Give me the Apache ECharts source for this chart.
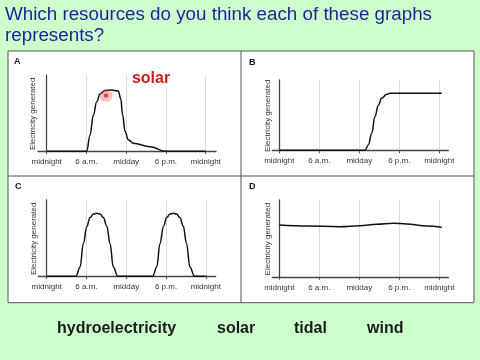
<!DOCTYPE html>
<html><head><meta charset="utf-8">
<script src="https://cdn.jsdelivr.net/npm/echarts@6/dist/echarts.min.js"></script>
<style>html,body{margin:0;padding:0;background:#ccffcc}#c{width:480px;height:360px}</style>
</head><body><div id="c"></div>
<script>
const titleLines = ['Which resources do you think each of these graphs', 'represents?'];
const panelLetters = ['A', 'B', 'C', 'D'];
const answerWords = ['hydroelectricity', 'solar', 'tidal', 'wind'];
const yAxisName = 'Electricity generated';
const tickHours = [0, 6, 12, 18, 24];
const tickLabels = ['midnight', '6 a.m.', 'midday', '6 p.m.', 'midnight'];

// Panel A (solar)
const hoursA  = [0, 6.04, 6.54, 7.03, 7.55, 8.05, 8.8, 9.81, 10.8, 11.17, 11.47, 11.82, 12.32, 13.07, 15.6, 17.86, 24];
const valuesA = [0, 0, 21, 47, 65, 75, 79.5, 80.3, 79, 69, 47, 26, 15, 10.3, 5.9, 0, 0];
const markerA = [[8.95, 73]];
const markerLabel = 'solar';
// Panel B
const hoursB  = [0, 12.85, 13.35, 13.86, 14.35, 14.85, 15.36, 16.11, 16.6, 24.36];
const valuesB = [0, 0, 7.5, 24, 48, 64, 74, 79.7, 81, 81];
// Panel C
const hoursC  = [0, 4.42, 5.03, 5.53, 6.04, 6.54, 7.05, 7.55, 8.05, 8.55, 9.06, 9.55, 10.05, 10.72,
                 16.0, 16.6, 17.1, 17.6, 18.1, 18.6, 19.1, 19.6, 20.1, 20.6, 21.1, 21.6, 22.3, 24];
const valuesC = [0, 0, 12, 43, 65, 77, 81.5, 82.5, 81.5, 77, 66, 43, 12, 0,
                 0, 12, 43, 65, 77, 81.5, 82.5, 81.5, 77, 66, 43, 12, 0, 0];
// Panel D
const hoursD  = [0, 4.1, 9.1, 12.1, 14.6, 17.1, 19.1, 22.1, 24.36];
const valuesD = [67.4, 66.1, 65.2, 66.5, 68.4, 69.7, 68.8, 66.1, 64.5];

const seriesHours = [hoursA, hoursB, hoursC, hoursD];
const seriesValues = [valuesA, valuesB, valuesC, valuesD];

const grids = [
  {left: 38, top: 75, width: 178, height: 77.7},
  {left: 272.3, top: 80, width: 176, height: 71.7},
  {left: 38.3, top: 200, width: 177.4, height: 77.7},
  {left: 272.3, top: 200, width: 176, height: 78.3}
];
const xRanges = [[-1.31, 25.55], [-1.05, 25.35], [-1.27, 25.5], [-1.05, 25.35]];
const letterPos = [[14, 62], [249, 63], [15, 187], [249, 187]];
const wordX = [57, 217, 294, 367];
const FONT = 'Arial, "Liberation Sans", sans-serif';

const chart = echarts.init(document.getElementById('c'), null, {renderer: 'canvas'});

const xAxes = grids.map((g, i) => ({
  type: 'value', gridIndex: i, min: xRanges[i][0], max: xRanges[i][1],
  axisLine: {show: true, lineStyle: {color: '#444', width: 1.3}},
  axisTick: {show: true, customValues: tickHours, length: 3, lineStyle: {color: '#555'}},
  axisLabel: {customValues: tickHours, formatter: v => tickLabels[tickHours.indexOf(v)],
    fontSize: 8, color: '#333', margin: 5, fontFamily: FONT},
  splitLine: {show: true, lineStyle: {color: '#dcdcdc', width: 1}}
}));
const yAxes = grids.map((g, i) => ({
  type: 'value', gridIndex: i, min: -2, max: 100,
  axisLine: {show: true, lineStyle: {color: '#444', width: 1.3}},
  axisTick: {show: false}, axisLabel: {show: false}, splitLine: {show: false},
  name: yAxisName, nameLocation: 'middle', nameGap: 1,
  nameTextStyle: {fontSize: 8, color: '#333', fontFamily: FONT}
}));
const series = seriesHours.map((hs, i) => ({
  type: 'line', xAxisIndex: i, yAxisIndex: i,
  data: hs.map((h, k) => [h, seriesValues[i][k]]),
  showSymbol: false, smooth: 0.4, smoothMonotone: 'x',
  lineStyle: {color: '#111', width: 1.5}, silent: true
}));
series.push({
  type: 'scatter', xAxisIndex: 0, yAxisIndex: 0, data: markerA, symbolSize: 13,
  itemStyle: {color: 'rgba(240,90,90,0.45)'}, z: 5
});
series.push({
  type: 'scatter', xAxisIndex: 0, yAxisIndex: 0, data: markerA, symbolSize: 5,
  itemStyle: {color: '#d82020', borderColor: '#ffb0b0', borderWidth: 1}, z: 6
});

const graphics = [
  {type: 'rect', shape: {x: 8, y: 51, width: 466, height: 251.7}, style: {fill: '#fff', stroke: '#555', lineWidth: 1}, z: -10},
  {type: 'line', shape: {x1: 241, y1: 51, x2: 241, y2: 302.7}, style: {stroke: '#555', lineWidth: 1}, z: -9},
  {type: 'line', shape: {x1: 8, y1: 176, x2: 474, y2: 176}, style: {stroke: '#555', lineWidth: 1}, z: -9}
];
titleLines.forEach((t, i) => graphics.push({type: 'text', x: 5, y: 15 + i * 21, z: 100,
  style: {text: t, fill: '#1f1f9c', font: '18.8px ' + FONT, verticalAlign: 'middle'}}));
panelLetters.forEach((t, i) => graphics.push({type: 'text', x: letterPos[i][0], y: letterPos[i][1], z: 100,
  style: {text: t, fill: '#111', font: 'bold 9px ' + FONT, verticalAlign: 'middle'}}));
graphics.push({type: 'text', x: 151, y: 79, z: 100, style: {text: markerLabel, fill: '#cc2020',
  font: 'bold 16px ' + FONT, align: 'center', verticalAlign: 'middle', backgroundColor: '#fff'}});
answerWords.forEach((t, i) => graphics.push({type: 'text', x: wordX[i], y: 329, z: 100,
  style: {text: t, fill: '#1a1a1a', font: 'bold 16px ' + FONT, verticalAlign: 'middle'}}));

chart.setOption({
  backgroundColor: '#ccffcc',
  animation: false,
  grid: grids,
  xAxis: xAxes,
  yAxis: yAxes,
  series: series,
  graphic: {elements: graphics}
});
</script></body></html>
